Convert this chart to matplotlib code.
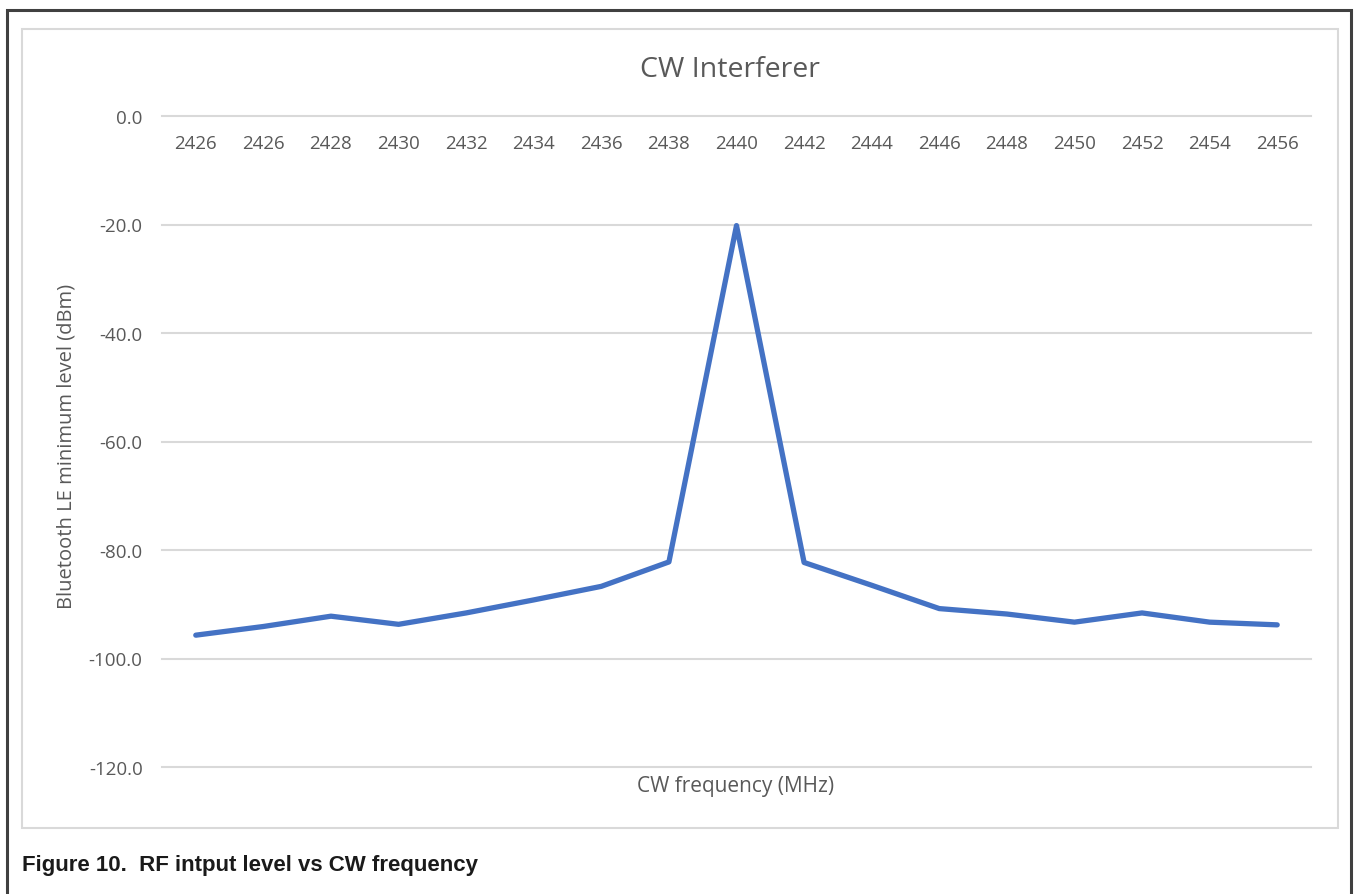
import matplotlib
matplotlib.use("Agg")
import matplotlib.pyplot as plt
from matplotlib.patches import Rectangle

# data
freq_labels = ["2426", "2426", "2428", "2430", "2432", "2434", "2436", "2438", "2440",
               "2442", "2444", "2446", "2448", "2450", "2452", "2454", "2456"]
level_dbm = [-95.7, -94.1, -92.2, -93.7, -91.6, -89.2, -86.7, -82.2, -20.2,
             -82.3, -86.5, -90.8, -91.8, -93.3, -91.6, -93.3, -93.8]
y_ticks = [0, -20, -40, -60, -80, -100, -120]

W, H = 1354, 895
fig = plt.figure(figsize=(W / 100, H / 100), dpi=100)
txt = "#595959"
font = "Open Sans"

# outer frame and inner chart border
fig.patches.append(Rectangle((7 / W, -0.1), (1351 - 7) / W, 1.1 - 11 / H,
                             transform=fig.transFigure, fill=False,
                             edgecolor="#404040", linewidth=2.2))
fig.patches.append(Rectangle((22 / W, 1 - 829 / H), (1338 - 22) / W, (829 - 30) / H,
                             transform=fig.transFigure, fill=False,
                             edgecolor="#d9d9d9", linewidth=1.5))

ax = fig.add_axes([162 / W, 1 - 768 / H, (1311 - 162) / W, (768 - 117) / H])
x = range(len(level_dbm))
ax.plot(x, level_dbm, color="#4472C4", linewidth=3.8, solid_joinstyle="round",
        solid_capstyle="round", clip_on=False, zorder=3)

ax.set_xlim(-0.5, len(level_dbm) - 0.5)
ax.set_ylim(-120, 0)
ax.set_yticks(y_ticks)
ax.set_yticklabels([f"{v:.1f}" for v in y_ticks], fontfamily=font, fontsize=13.5, color=txt)
ax.set_xticks(list(x))
ax.set_xticklabels(freq_labels, fontfamily=font, fontsize=13.5, color=txt)
ax.tick_params(axis="x", length=0, labeltop=True, labelbottom=False, pad=-26)
ax.tick_params(axis="y", length=0, pad=14)
ax.grid(axis="y", color="#d9d9d9", linewidth=1.5, clip_on=False)
for s in ax.spines.values():
    s.set_visible(False)

fig.text(730 / W, 1 - 70 / H, "CW Interferer", fontfamily=font, fontsize=20.5,
         color=txt, ha="center", va="center")
fig.text(736 / W, 1 - 787 / H, "CW frequency (MHz)", fontfamily=font, fontsize=15,
         color=txt, ha="center", va="center")
fig.text(67 / W, 1 - 446 / H, "Bluetooth LE minimum level (dBm)", fontfamily=font,
         fontsize=14.5, color=txt, ha="center", va="center", rotation=90)
fig.text(22 / W, 1 - 866 / H, "Figure 10.  RF intput level vs CW frequency",
         fontfamily="Liberation Sans", fontweight="bold", fontsize=16,
         color="#1a1a1a", ha="left", va="center")

fig.savefig("out.png", dpi=100, facecolor="white")
